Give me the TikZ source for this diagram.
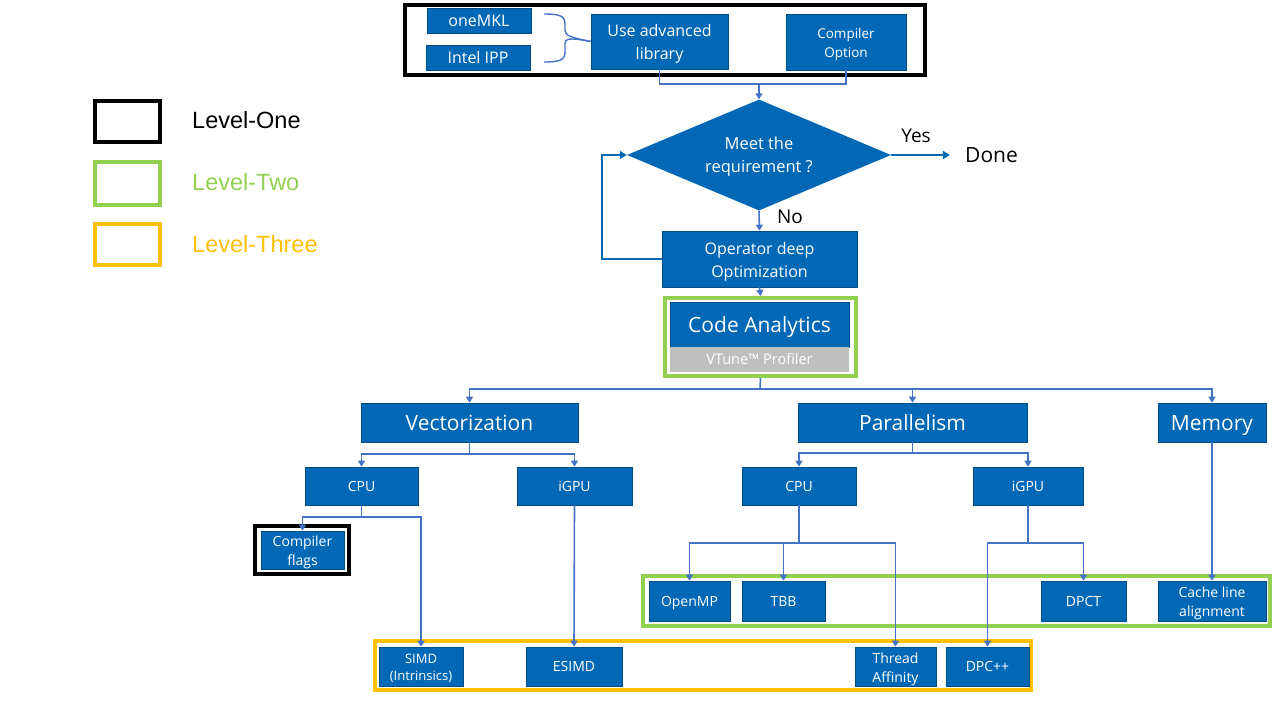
\documentclass[tikz,border=0pt]{standalone}
\usepackage{fontspec}
\setmainfont{Open Sans}
\newfontfamily\legendfont{Liberation Sans}
\usepackage{tikz}
\usetikzlibrary{arrows.meta}
\usetikzlibrary{shapes.geometric}

\definecolor{ibox}{HTML}{0068B5}
\definecolor{iline}{HTML}{4472C4}
\definecolor{lvtwo}{HTML}{92D050}
\definecolor{lvthree}{HTML}{FFC000}
\definecolor{igray}{HTML}{BFBFBF}

\begin{document}
\begin{tikzpicture}[x=1pt, y=-1pt,
    main/.style = {draw=ibox!75!black, line width=0.6pt, fill=ibox, text=white, inner sep=0pt, align=center},
    wh/.style 2 args = {minimum width=#1pt, minimum height=#2pt},
    frame/.style = {draw=#1, line width=4pt, inner sep=0pt},
    f13/.style = {font=\fontsize{13.5pt}{19pt}\selectfont},
    f14/.style = {font=\fontsize{14pt}{19pt}\selectfont},
    f16/.style = {font=\fontsize{16pt}{23pt}\selectfont},
    f20/.style = {font=\fontsize{21pt}{25pt}\selectfont},
    s14/.style = {text height=13pt, text depth=3pt},
    s16/.style = {text height=14.5pt, text depth=3pt},
    s20/.style = {text height=19pt, text depth=4pt},
    m14/.style = {text height=34.5pt, text depth=3.1pt},
    m16/.style = {text height=40pt, text depth=3.6pt},
    link/.style = {draw=iline, line width=1.6pt},
    arr/.style = {link, -{Triangle[length=6pt, width=7pt]}},
    flow/.style = {draw=ibox, line width=2.2pt, -{Triangle[length=7pt, width=8pt]}},
    legend/.style = {anchor=west, inner sep=0pt, font=\legendfont\fontsize{23.5pt}{27pt}\selectfont}]

    \useasboundingbox (0,0) rectangle (1280,720);

    % legend
    \node [frame=black, wh={65}{41}] (lone) at (127.5,121.5) {};
    \node [frame=lvtwo, wh={65}{43}] (ltwo) at (127.5,183.5) {};
    \node [frame=lvthree, wh={65}{41}] (lthree) at (127.5,244.5) {};
    \node [legend, text=black] at (192,120) {Level-One};
    \node [legend, text=lvtwo] at (192,182) {Level-Two};
    \node [legend, text=lvthree] at (192,244) {Level-Three};

    % level one: libraries and compiler
    \draw [frame=black] (405,5) rectangle (925,75);
    \node [main, f16, s16, wh={104}{25}] (mkl) at (479,20.5) {oneMKL};
    \node [main, f16, s16, wh={104}{25}] (ipp) at (478,57.5) {Intel IPP};
    \node [main, f16, m16, wh={137}{55}] (lib) at (659.5,41.5) {Use advanced\\library};
    \node [main, f13, text height=33.5pt, text depth=3.4pt, wh={120}{56}] (copt) at (846,42) {Compiler\\Option};
    \draw [iline, line width=1.4pt] (544,14) .. controls (560,14) and (565,16) .. (565,24) -- (565,30)
        .. controls (565,35) and (568,37) .. (lib.west);
    \draw [iline, line width=1.4pt] (544,62) .. controls (560,62) and (565,60) .. (565,52) -- (565,44)
        .. controls (565,39) and (568,37) .. (lib.west);

    % decision loop
    \node [diamond, fill=ibox, inner sep=0pt, aspect=2.4,
        minimum width=264pt, minimum height=111pt] (req) at (759,155) {};
    \node [text=white, align=center, inner sep=0pt, font=\fontsize{16.5pt}{23pt}\selectfont]
        (reqtext) at (759,157) {Meet the\\requirement ?};
    \node [anchor=west, f20, s20, inner xsep=15pt, inner ysep=0pt] (done) at (950,155) {Done};
    \node [font=\fontsize{19pt}{22pt}\selectfont] (yes) at (916,136) {Yes};
    \node [font=\fontsize{19pt}{22pt}\selectfont] (no) at (790,217) {No};
    \node [main, f16, m16, wh={195}{56}] (opt) at (759.5,259) {Operator deep\\Optimization};

    % level two: code analytics
    \node [frame=lvtwo, wh={191}{78}] (cabox) at (760.5,337) {};
    \node [main, s20, wh={179}{45}, font=\fontsize{21pt}{25pt}\selectfont] (ca) at (759.5,324.5) {Code Analytics};
    \node [fill=igray, text=white, inner sep=0pt, s14, font=\fontsize{14.5pt}{18pt}\selectfont, wh={179}{25}] (vtune) at (759.5,359.5) {VTune™ Profiler};

    % categories
    \node [main, f20, s20, wh={217}{39}] (vec) at (469.5,422.5) {Vectorization};
    \node [main, f20, s20, wh={229}{39}] (par) at (912.5,422.5) {Parallelism};
    \node [main, f20, s20, wh={108}{39}] (mem) at (1212,422.5) {Memory};

    \node [main, f14, s14, wh={113}{38}] (vcpu) at (361.5,486) {CPU};
    \node [main, f14, s14, wh={115}{38}] (vgpu) at (574.5,486) {iGPU};
    \node [main, f14, s14, wh={114}{38}] (pcpu) at (799,486) {CPU};
    \node [main, f14, s14, wh={110}{38}] (pgpu) at (1028,486) {iGPU};

    % leaves
    \draw [frame=black] (255,526) rectangle (349,574);
    \node [main, f14, m14, wh={83}{38}] (cflags) at (302.5,550) {Compiler\\flags};

    \draw [frame=lvtwo] (643,576) rectangle (1270,626);
    \node [main, f14, s14, wh={81}{40}] (openmp) at (689.5,601) {OpenMP};
    \node [main, f14, s14, wh={83}{40}] (tbb) at (783.5,601) {TBB};
    \node [main, f14, s14, wh={85}{40}] (dpct) at (1083.5,601) {DPCT};
    \node [main, f14, m14, wh={108}{40}] (cache) at (1212,601) {Cache line\\alignment};

    \draw [frame=lvthree] (375,641) rectangle (1031,690);
    \node [main, font=\fontsize{13pt}{17pt}\selectfont, text height=30.8pt, text depth=3.1pt, wh={84}{39}] (simd) at (421,666.5) {SIMD\\(Intrinsics)};
    \node [main, f14, s14, wh={96}{39}] (esimd) at (574,666.5) {ESIMD};
    \node [main, f14, m14, wh={81}{39}] (thread) at (895.5,666.5) {Thread\\Affinity};
    \node [main, f14, s14, wh={83}{39}] (dpcpp) at (987.5,666.5) {DPC++};

    % connectors
    \coordinate (join) at (759,84);
    \draw [link] (lib.south) |- (join) -| (copt.south);
    \draw [arr] (join) to (req.north);
    \draw [flow] (req.east) to (done.west);
    \draw [arr] (req.south) to (opt.north);
    \draw [flow] (opt.west) -- ++(-60,0) |- (req.west);
    \draw [arr] (opt.south) to (cabox.north);

    \coordinate (split) at (760,389);
    \draw [link] (cabox.south) to (split);
    \draw [arr] (split) -| (vec.north);
    \draw [arr] (split) -| (par.north);
    \draw [arr] (split) -| (mem.north);

    \coordinate (vsplit) at (469.5,454);
    \draw [link] (vec.south) to (vsplit);
    \draw [arr] (vsplit) -| (vcpu.north);
    \draw [arr] (vsplit) -| (vgpu.north);

    \coordinate (vcsplit) at (361.5,517);
    \draw [link] (vcpu.south) to (vcsplit);
    \draw [arr] (vcsplit) -| (cflags.north);
    \draw [arr] (vcsplit) -| (simd.north);
    \draw [arr] (vgpu.south) to (esimd.north);

    \coordinate (psplit) at (912.5,453);
    \draw [link] (par.south) to (psplit);
    \draw [arr] (psplit) -| (pcpu.north);
    \draw [arr] (psplit) -| (pgpu.north);

    \coordinate (pcsplit) at (799,543);
    \draw [link] (pcpu.south) to (pcsplit);
    \draw [arr] (pcsplit) -| (openmp.north);
    \draw [arr] (pcsplit) -| (tbb.north);
    \draw [arr] (pcsplit) -| (thread.north);

    \coordinate (pgsplit) at (1028,543);
    \draw [link] (pgpu.south) to (pgsplit);
    \draw [arr] (pgsplit) -| (dpct.north);
    \draw [arr] (pgsplit) -| (dpcpp.north);

    \draw [arr] (mem.south) to (cache.north);

\end{tikzpicture}
\end{document}
